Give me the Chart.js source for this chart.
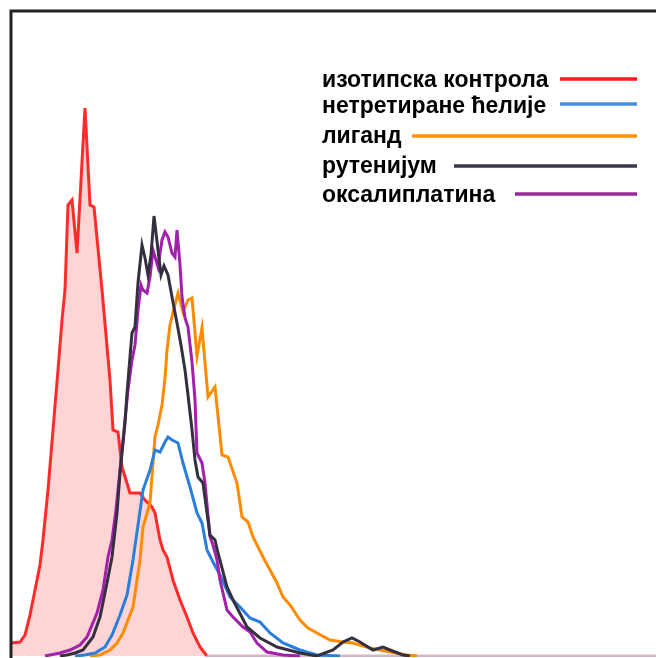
<!DOCTYPE html>
<html>
<head>
<meta charset="utf-8">
<script src="https://cdn.jsdelivr.net/npm/chart.js@4.4.1/dist/chart.umd.min.js"></script>
<style>
  html, body { margin: 0; padding: 0; background: #fff; }
  #wrap { width: 656px; height: 658px; }
</style>
</head>
<body>
<div id="wrap"><canvas id="histo" width="656" height="658"></canvas></div>
<script>
// fluorescence channel (x) and event counts (y) for each sample
const isotypeX = [0, 9, 14, 19, 23, 29, 32, 37, 42, 47, 51, 54, 57, 61, 66, 74, 79, 83, 91, 95, 99, 102, 107, 111, 119, 129, 134, 141, 144, 149, 152, 156, 162, 169, 176, 182, 189, 196, 645];
const isotypeY = [13, 14, 21, 41, 61, 91, 116, 166, 226, 286, 336, 366, 451, 456, 403, 548, 451, 449, 366, 321, 276, 226, 224, 189, 163, 163, 156, 149, 143, 116, 106, 99, 76, 56, 39, 23, 9, 0, 0];

const untreatedX = [64, 74, 84, 94, 101, 109, 116, 122, 127, 132, 139, 144, 149, 154, 157, 161, 167, 172, 179, 186, 191, 196, 202, 209, 219, 229, 239, 249, 259, 272, 289, 306, 329];
const untreatedY = [0, 1, 3, 9, 21, 41, 61, 96, 131, 166, 186, 206, 204, 214, 219, 216, 213, 193, 169, 143, 133, 106, 94, 81, 59, 49, 38, 34, 23, 13, 6, 1, 0];

const ligandX = [79, 89, 99, 106, 112, 117, 122, 126, 129, 132, 139, 142, 144, 147, 151, 154, 156, 159, 163, 167, 172, 177, 181, 186, 191, 197, 204, 211, 217, 226, 231, 237, 242, 252, 259, 266, 272, 279, 289, 297, 306, 319, 332, 342, 359, 379, 396, 406];
const ligandY = [0, 1, 6, 13, 23, 36, 49, 76, 96, 129, 153, 193, 219, 231, 251, 278, 306, 331, 348, 363, 344, 356, 358, 300, 328, 259, 269, 201, 199, 173, 139, 134, 119, 99, 86, 73, 59, 51, 36, 28, 23, 16, 14, 13, 8, 4, 1, 0];

const rutheniumX = [49, 56, 64, 72, 82, 89, 96, 101, 106, 109, 114, 116, 121, 124, 127, 131, 134, 137, 140, 143, 147, 150, 153, 157, 161, 166, 170, 174, 177, 181, 184, 187, 192, 196, 199, 204, 207, 216, 222, 236, 249, 266, 289, 306, 322, 332, 341, 349, 362, 372, 379, 392, 399];
const rutheniumY = [0, 1, 3, 6, 19, 39, 73, 99, 143, 183, 233, 263, 323, 329, 373, 411, 398, 381, 401, 440, 406, 381, 390, 381, 359, 333, 311, 286, 261, 226, 196, 179, 173, 143, 121, 116, 103, 69, 56, 29, 18, 9, 3, 0, 6, 14, 18, 14, 6, 9, 6, 1, 0];

const oxaliplatinX = [34, 39, 49, 59, 69, 76, 86, 92, 97, 101, 105, 108, 112, 115, 117, 121, 124, 127, 130, 132, 136, 139, 142, 147, 151, 154, 157, 161, 164, 166, 169, 171, 174, 177, 181, 184, 186, 191, 194, 199, 202, 206, 209, 216, 222, 232, 239, 246, 256, 272, 289];
const oxaliplatinY = [0, 1, 3, 6, 11, 19, 43, 66, 99, 116, 146, 176, 216, 246, 266, 296, 311, 346, 371, 366, 363, 379, 406, 389, 416, 424, 419, 403, 399, 426, 391, 359, 338, 329, 294, 256, 203, 193, 173, 119, 111, 96, 76, 46, 39, 29, 24, 13, 4, 1, 0];

const legendLabels = ['изотипска контрола', 'нетретиране ћелије', 'лиганд', 'рутенијум', 'оксалиплатина'];

function toPoints(xs, ys) {
  return xs.map((x, i) => ({ x: x, y: ys[i] }));
}

const colors = ['#ff2b2b', '#2a7fdc', '#ff8c00', '#35303f', '#a31fae'];
const legendLineColors = ['#ff1a1a', '#4a8de0', '#ff9000', '#3e3550', '#9a2a9a'];

// legend rows: text baseline, line y and line start
const legendRows = [
  { base: 87, lineY: 79, lineX: 560 },
  { base: 113, lineY: 104, lineX: 560 },
  { base: 143, lineY: 136, lineX: 412 },
  { base: 173, lineY: 166, lineX: 454 },
  { base: 202, lineY: 194, lineX: 515 }
];

const framePlugin = {
  id: 'frame',
  afterDraw(chart) {
    const ctx = chart.ctx;
    const a = chart.chartArea;
    ctx.save();
    ctx.strokeStyle = '#222';
    ctx.lineWidth = 3;
    ctx.beginPath();
    ctx.moveTo(a.left, chart.height);
    ctx.lineTo(a.left, a.top);
    ctx.lineTo(chart.width, a.top);
    ctx.stroke();

    ctx.font = 'bold 23px "Liberation Sans", Arial, sans-serif';
    ctx.textBaseline = 'alphabetic';
    ctx.fillStyle = '#000';
    legendLabels.forEach((label, i) => {
      const row = legendRows[i];
      ctx.fillText(label, 322, row.base);
      ctx.strokeStyle = legendLineColors[i];
      ctx.lineWidth = 3.5;
      ctx.beginPath();
      ctx.moveTo(row.lineX, row.lineY);
      ctx.lineTo(637, row.lineY);
      ctx.stroke();
    });
    ctx.restore();
  }
};

const ctx = document.getElementById('histo').getContext('2d');
const histo = new Chart(ctx, {
  type: 'line',
  data: {
    datasets: [
      {
        label: legendLabels[0],
        data: toPoints(isotypeX, isotypeY),
        borderColor: colors[0],
        backgroundColor: 'rgba(255, 0, 0, 0.17)',
        fill: 'origin',
        order: 5,
        segment: {
          borderColor: c => (c.p0.parsed.y === 0 && c.p1.parsed.y === 0) ? 'rgba(205, 165, 185, 0.8)' : undefined
        }
      },
      { label: legendLabels[1], data: toPoints(untreatedX, untreatedY), borderColor: colors[1], order: 3 },
      { label: legendLabels[2], data: toPoints(ligandX, ligandY), borderColor: colors[2], order: 4 },
      { label: legendLabels[3], data: toPoints(rutheniumX, rutheniumY), borderColor: colors[3], order: 1 },
      { label: legendLabels[4], data: toPoints(oxaliplatinX, oxaliplatinY), borderColor: colors[4], order: 2 }
    ]
  },
  options: {
    responsive: false,
    animation: false,
    layout: { padding: { left: 11, top: 11, right: 0, bottom: 1 } },
    elements: {
      point: { radius: 0 },
      line: { borderWidth: 3, tension: 0, fill: false }
    },
    scales: {
      x: { type: 'linear', min: 0, max: 645, display: false },
      y: { min: -1, max: 645, display: false }
    },
    plugins: {
      legend: { display: false },
      tooltip: { enabled: false }
    }
  },
  plugins: [framePlugin]
});
</script>
</body>
</html>
